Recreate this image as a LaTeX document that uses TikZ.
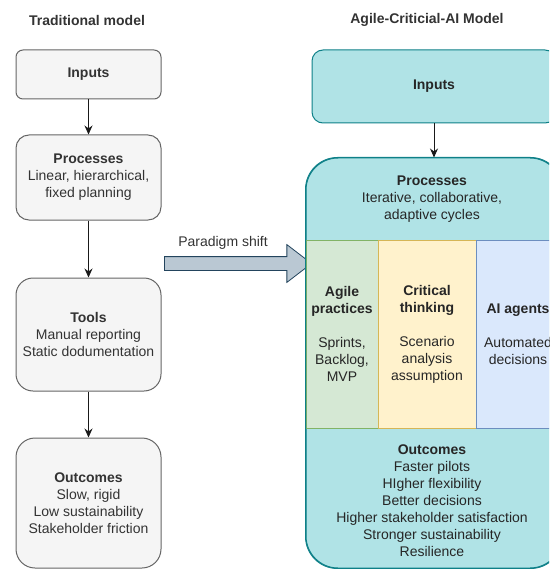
\documentclass[tikz,border=0pt]{standalone}
\usepackage{fontspec}
\setmainfont{Liberation Sans}
\usetikzlibrary{positioning,arrows.meta,shapes.arrows}
\definecolor{oldf}{HTML}{F5F5F5}
\definecolor{oldd}{HTML}{666666}
\definecolor{oldt}{HTML}{333333}
\definecolor{newf}{HTML}{B0E3E6}
\definecolor{newd}{HTML}{0E8088}
\definecolor{agilef}{HTML}{D5E8D4}
\definecolor{agiled}{HTML}{82B366}
\definecolor{critf}{HTML}{FFF2CC}
\definecolor{critd}{HTML}{D6B656}
\definecolor{aif}{HTML}{DAE8FC}
\definecolor{aid}{HTML}{6C8EBF}
\definecolor{shiftf}{HTML}{BAC8D3}
\definecolor{shiftd}{HTML}{23445D}
\newcommand{\bodyfont}{\fontsize{14}{17}\selectfont}
\tikzset{
  title/.style    = {font=\bodyfont\bfseries, text=oldt},
  oldbox/.style   = {draw=oldd, fill=oldf, text=oldt, line width=1pt, minimum width=145pt,
                     align=center, inner sep=2pt, font=\bodyfont},
  newbox/.style   = {draw=newd, fill=newf, text=black!85, line width=1pt,
                     align=center, inner sep=2pt, font=\bodyfont},
  colbox/.style   = {rectangle, line width=1pt, minimum height=188pt, text=black!85,
                     align=center, inner sep=2pt, font=\bodyfont},
  plain/.style    = {align=center, inner sep=1pt, text=black!85, font=\bodyfont},
  flow/.style     = {-{Stealth[length=9pt,width=8pt]}, line width=1pt, draw=black!90},
  shiftarrow/.style = {single arrow, draw=shiftd, fill=shiftf, line width=0.8pt,
                     inner sep=6.5pt, single arrow head extend=12pt,
                     single arrow tip angle=75, minimum width=37pt},
  lbl/.style      = {font=\bodyfont, text=oldt, inner sep=1pt},
}
\begin{document}
\begin{tikzpicture}[x=1pt,y=-1pt]
\useasboundingbox (0,0) rectangle (549,569);
\clip (0,0) rectangle (549,569);

% traditional model
\node[title] (ltitle) at (87,20) {Traditional model};
\node[oldbox, rounded corners=7pt, minimum height=49pt] (lin) at (88.5,74.5) {\textbf{Inputs}};
\node[oldbox, rounded corners=13pt, minimum height=85pt] (lproc) at (88.5,177.5)
  {\textbf{Processes}\\Linear, hierarchical,\\fixed planning};
\node[oldbox, rounded corners=17pt, minimum height=113pt] (ltools) at (88.5,334.5)
  {\textbf{Tools}\\Manual reporting\\Static dodumentation};
\node[oldbox, rounded corners=19pt, minimum height=130pt] (lout) at (88.5,503)
  {\textbf{Outcomes}\\Slow, rigid\\Low sustainability\\Stakeholder friction};

\draw[flow] (lin) -- (lproc);
\draw[flow] (lproc) -- (ltools);
\draw[flow] (ltools) -- (lout);

% paradigm shift
\node[shiftarrow, minimum height=147pt] (shift) at (233.5,263.5) {};
\node[lbl] (shiftlbl) at (223,243) {Paradigm shift};

% agile-critical-ai model
\node[title] (rtitle) at (427,20) {Agile-Criticial-AI Model};
\node[newbox, rounded corners=11pt, minimum width=244pt, minimum height=73pt] (rin) at (434,86.5)
  {\textbf{Inputs}};
\node[newbox, rounded corners=32pt, minimum width=256pt, minimum height=410pt] (rbox) at (434,363) {};

\node[colbox, draw=agiled, fill=agilef, minimum width=72pt] (agile) at (342,334)
  {\textbf{Agile}\\\textbf{practices}\\[17pt]Sprints,\\Backlog,\\MVP};
\node[colbox, draw=critd, fill=critf, minimum width=98pt] (crit) at (427,334)
  {\textbf{Critical}\\\textbf{thinking}\\[17pt]Scenario\\analysis\\assumption};
\node[colbox, draw=aid, fill=aif, minimum width=84pt] (ai) at (518,334)
  {\textbf{AI agents}\\[17pt]Automated\\decisions};
\draw[draw=newd, line width=1pt, rounded corners=32pt] (rbox.north west) rectangle (rbox.south east);

\node[plain] (rproc) at (432,199) {\textbf{Processes}\\Iterative, collaborative,\\adaptive cycles};
\node[plain] (rout) at (432,501)
  {\textbf{Outcomes}\\Faster pilots\\HIgher flexibility\\Better decisions\\
   Higher stakeholder satisfaction\\Stronger sustainability\\Resilience};

\draw[flow] (rin.south) -- (rin.south |- rbox.north);

\end{tikzpicture}
\end{document}
